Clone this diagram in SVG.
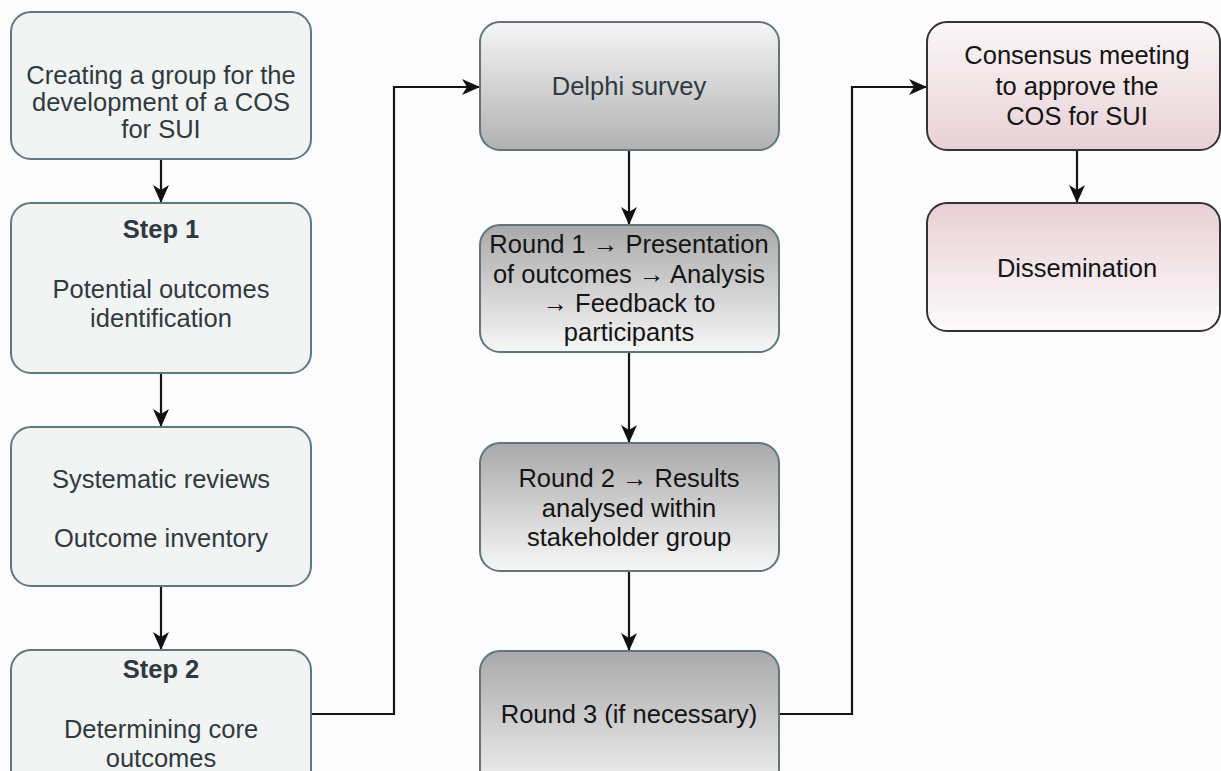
<svg xmlns="http://www.w3.org/2000/svg" width="1221" height="771" viewBox="0 0 1221 771">
<defs>
<linearGradient id="gDelphi" x1="0" y1="0" x2="0" y2="1">
<stop offset="0" stop-color="#f6f6f6"/>
<stop offset="1" stop-color="#b1b1b1"/>
</linearGradient>
<linearGradient id="gRound" x1="0" y1="0" x2="0" y2="1">
<stop offset="0" stop-color="#a9a9a9"/>
<stop offset="1" stop-color="#f7f7f7"/>
</linearGradient>
<linearGradient id="gCons" x1="0" y1="0" x2="0" y2="1">
<stop offset="0" stop-color="#fbf6f7"/>
<stop offset="1" stop-color="#e8d1d6"/>
</linearGradient>
<linearGradient id="gDiss" x1="0" y1="0" x2="0" y2="1">
<stop offset="0" stop-color="#e8cfd5"/>
<stop offset="1" stop-color="#fdfbfb"/>
</linearGradient>
<marker id="arr" viewBox="0 0 18 16" refX="17" refY="8" markerWidth="18" markerHeight="16" markerUnits="userSpaceOnUse" orient="auto">
<path d="M0,0 L18,8 L0,16 L5,8 Z" fill="#111"/>
</marker>
<style>
.lbox{fill:#f2f3f3;stroke:#5f7883;stroke-width:2}
.mbox{stroke:#63757c;stroke-width:2}
.rbox{stroke:#333;stroke-width:2}
text{font-family:"Liberation Sans",Arial,sans-serif;font-size:25.5px;text-anchor:middle}
.lt{fill:#2f3a40}
.dt{fill:#141414}
.b{font-weight:bold}
.con{fill:none;stroke:#151515;stroke-width:2.2}
</style>
</defs>
<rect width="1221" height="771" fill="#fcfcfd"/>

<g id="connectors">
<path class="con" d="M161,159 V202" marker-end="url(#arr)"/>
<path class="con" d="M161,373 V426" marker-end="url(#arr)"/>
<path class="con" d="M161,586 V649" marker-end="url(#arr)"/>
<path class="con" d="M311,714 H394 V87 H479" marker-end="url(#arr)"/>
<path class="con" d="M629,150 V224" marker-end="url(#arr)"/>
<path class="con" d="M629,352 V442" marker-end="url(#arr)"/>
<path class="con" d="M629,571 V650" marker-end="url(#arr)"/>
<path class="con" d="M779,714 H852 V87 H926" marker-end="url(#arr)"/>
<path class="con" d="M1077,150 V202" marker-end="url(#arr)"/>
</g>

<g id="n-create">
<rect class="lbox" x="11" y="12" width="300" height="147" rx="20"/>
<text class="lt" x="161" y="84">Creating a group for the</text>
<text class="lt" x="161" y="111">development of a COS</text>
<text class="lt" x="161" y="138">for SUI</text>
</g>
<g id="n-step1">
<rect class="lbox" x="11" y="203" width="300" height="170" rx="20"/>
<text class="lt b" x="161" y="238">Step 1</text>
<text class="lt" x="161" y="298">Potential outcomes</text>
<text class="lt" x="161" y="327">identification</text>
</g>
<g id="n-reviews">
<rect class="lbox" x="11" y="427" width="300" height="159" rx="20"/>
<text class="lt" x="161" y="488">Systematic reviews</text>
<text class="lt" x="161" y="547">Outcome inventory</text>
</g>
<g id="n-step2">
<rect class="lbox" x="11" y="650" width="300" height="150" rx="20"/>
<text class="lt b" x="161" y="678">Step 2</text>
<text class="lt" x="161" y="738">Determining core</text>
<text class="lt" x="161" y="767">outcomes</text>
</g>

<g id="n-delphi">
<rect class="mbox" fill="url(#gDelphi)" x="480" y="22" width="299" height="128" rx="20"/>
<text class="lt" x="629" y="95">Delphi survey</text>
</g>
<g id="n-round1">
<rect class="mbox" fill="url(#gRound)" x="480" y="225" width="299" height="127" rx="20"/>
<text class="dt" x="629" y="253">Round 1 → Presentation</text>
<text class="dt" x="629" y="283">of outcomes → Analysis</text>
<text class="dt" x="629" y="312">→ Feedback to</text>
<text class="dt" x="629" y="341">participants</text>
</g>
<g id="n-round2">
<rect class="mbox" fill="url(#gRound)" x="480" y="443" width="299" height="128" rx="20"/>
<text class="dt" x="629" y="487">Round 2 → Results</text>
<text class="dt" x="629" y="517">analysed within</text>
<text class="dt" x="629" y="546">stakeholder group</text>
</g>
<g id="n-round3">
<rect class="mbox" fill="url(#gRound)" x="480" y="651" width="299" height="150" rx="20"/>
<text class="dt" x="629" y="723">Round 3 (if necessary)</text>
</g>

<g id="n-consensus">
<rect class="rbox" fill="url(#gCons)" x="927" y="22" width="293" height="128" rx="20"/>
<text class="dt" x="1077" y="64">Consensus meeting</text>
<text class="dt" x="1077" y="95">to approve the</text>
<text class="dt" x="1077" y="125">COS for SUI</text>
</g>
<g id="n-dissemination">
<rect class="rbox" fill="url(#gDiss)" x="927" y="203" width="293" height="128" rx="20"/>
<text class="dt" x="1077" y="277">Dissemination</text>
</g>
</svg>
